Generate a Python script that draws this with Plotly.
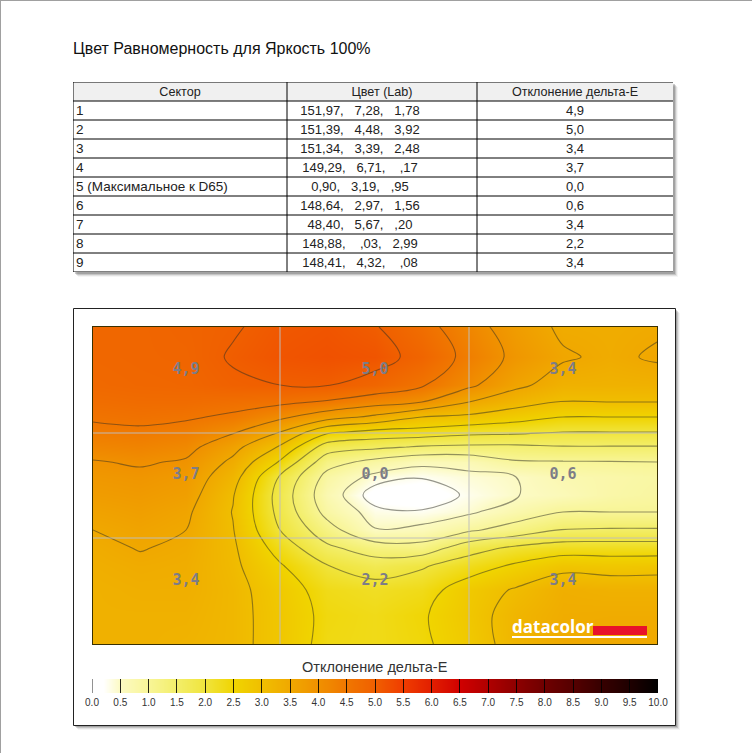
import plotly.graph_objects as go

W, H = 752, 753

title = "Цвет Равномерность для Яркость 100%"
headers = ["Сектор", "Цвет (Lab)", "Отклонение дельта-Е"]
sectors = ["1", "2", "3", "4", "5 (Максимальное к D65)", "6", "7", "8", "9"]
NB = "\u00a0\u00a0\u00a0"
lab = [
    f"151,97,{NB}7,28,{NB}1,78", f"151,39,{NB}4,48,{NB}3,92", f"151,34,{NB}3,39,{NB}2,48",
    f"149,29,{NB}6,71,{NB}\u00a0,17", f"0,90,{NB}3,19,{NB},95", f"148,64,{NB}2,97,{NB}1,56",
    f"48,40,{NB}5,67,{NB},20", f"148,88,{NB}\u00a0,03,{NB}2,99", f"148,41,{NB}4,32,{NB}\u00a0,08",
]
delta_e = ["4,9", "5,0", "3,4", "3,7", "0,0", "0,6", "3,4", "2,2", "3,4"]

grid_x = [93, 140, 186, 233, 280, 327, 375, 422, 469, 516, 563, 610, 657]
grid_y = [327, 357, 385, 402, 417, 432, 447, 462, 477, 495, 512, 530, 548, 566, 590, 615, 644]
col_093 = [4.82, 4.82, 4.78, 4.68, 4.55, 4.40, 4.20, 3.97, 3.85, 3.75, 3.62, 3.50, 3.40, 3.35, 3.30, 3.30, 3.30]
col_140 = [4.85, 4.85, 4.82, 4.72, 4.60, 4.43, 4.25, 4.05, 3.90, 3.80, 3.70, 3.60, 3.52, 3.42, 3.35, 3.30, 3.30]
col_186 = [4.90, 4.87, 4.84, 4.72, 4.55, 4.35, 4.15, 3.95, 3.80, 3.70, 3.58, 3.50, 3.43, 3.38, 3.35, 3.30, 3.25]
col_233 = [4.97, 5.03, 4.95, 4.65, 4.43, 4.05, 3.65, 3.40, 3.20, 3.03, 2.98, 3.02, 3.07, 3.10, 3.15, 3.15, 3.15]
col_280 = [5.10, 5.15, 5.00, 4.60, 4.10, 3.50, 2.95, 2.45, 1.95, 1.80, 1.85, 2.00, 2.30, 2.55, 2.75, 2.80, 2.80]
col_327 = [5.15, 5.20, 5.02, 4.45, 3.70, 2.60, 1.75, 1.20, 0.85, 0.70, 0.85, 1.20, 1.60, 2.02, 2.30, 2.38, 2.35]
col_375 = [5.03, 5.15, 4.85, 4.20, 3.40, 2.35, 1.60, 0.85, 0.38, 0.10, 0.33, 0.52, 1.25, 1.75, 2.20, 2.30, 2.30]
col_422 = [4.68, 4.87, 4.55, 4.00, 3.00, 2.30, 1.45, 0.60, 0.27, 0.05, 0.28, 0.60, 1.20, 1.95, 2.30, 2.45, 2.42]
col_469 = [4.20, 4.35, 4.10, 3.50, 2.90, 2.15, 1.40, 0.65, 0.40, 0.30, 0.43, 0.93, 1.80, 2.27, 2.75, 2.80, 2.75]
col_516 = [3.75, 3.88, 3.60, 3.20, 2.70, 2.10, 1.40, 0.95, 0.50, 0.48, 0.75, 1.20, 2.10, 2.58, 3.05, 3.20, 3.20]
col_563 = [3.42, 3.55, 3.30, 2.98, 2.50, 2.00, 1.47, 0.97, 0.70, 0.62, 1.00, 1.52, 2.25, 2.85, 3.35, 3.40, 3.45]
col_610 = [3.40, 3.42, 3.28, 3.00, 2.50, 2.00, 1.47, 0.98, 0.78, 0.80, 1.00, 1.55, 2.25, 2.80, 3.30, 3.42, 3.47]
col_657 = [3.45, 3.55, 3.30, 3.00, 2.50, 2.00, 1.47, 1.00, 0.85, 0.88, 1.00, 1.55, 2.25, 2.82, 3.30, 3.42, 3.47]
columns = [col_093, col_140, col_186, col_233, col_280, col_327, col_375, col_422,
           col_469, col_516, col_563, col_610, col_657]
z_grid = [[c[r] for c in columns] for r in range(len(grid_y))]

sector_edges_x = [280, 469]
sector_edges_y = [433, 538]
label_x = [186, 375, 563]
label_y = [370, 475, 581]

scale_ticks = [0.0, 0.5, 1.0, 1.5, 2.0, 2.5, 3.0, 3.5, 4.0, 4.5, 5.0,
               5.5, 6.0, 6.5, 7.0, 7.5, 8.0, 8.5, 9.0, 9.5, 10.0]
scale_colors = ["rgb(255,255,255)", "rgb(252,250,195)", "rgb(248,245,150)", "rgb(243,238,105)",
                "rgb(240,228,60)", "rgb(240,212,0)", "rgb(240,190,0)", "rgb(240,168,0)",
                "rgb(240,145,0)", "rgb(240,118,0)", "rgb(240,95,0)", "rgb(240,60,0)",
                "rgb(225,30,0)", "rgb(208,0,0)", "rgb(175,0,0)", "rgb(140,0,0)",
                "rgb(110,0,0)", "rgb(85,0,0)", "rgb(55,0,0)", "rgb(30,0,0)", "rgb(0,0,0)"]
colorscale = [[t / 10, c] for t, c in zip(scale_ticks, scale_colors)]
colorscale.insert(1, [0.02, "rgb(255,255,255)"])

FONT = "Liberation Sans"
def px(v): return v / W
def py(v): return 1 - v / H

fig = go.Figure()
LINE = dict(color="rgba(45,45,35,0.5)", width=1.1, smoothing=1)
fig.add_trace(go.Contour(
    x=grid_x, y=grid_y, z=z_grid, zmin=0, zmax=10, colorscale=colorscale, showscale=False,
    contours=dict(coloring="heatmap", start=0.5, end=5.0, size=0.5, showlines=True),
    line=LINE, hoverinfo="skip"))
fig.add_trace(go.Contour(
    x=grid_x, y=grid_y, z=z_grid, showscale=False,
    contours=dict(coloring="none", start=0.25, end=0.25, size=1),
    line=LINE, hoverinfo="skip"))

# sector readings on the map
fig.add_trace(go.Scatter(
    x=[label_x[i % 3] for i in range(9)], y=[label_y[i // 3] for i in range(9)],
    mode="text", text=delta_e, textposition="middle center",
    textfont=dict(family="DejaVu Sans Mono", size=15, color="rgb(125,125,135)", weight="bold"),
    hoverinfo="skip", showlegend=False))
fig.add_trace(go.Scatter(
    x=[512], y=[629], mode="text", text=["datacolor"], textposition="middle right",
    textfont=dict(family="Open Sans", size=17, color="white", weight="bold"),
    hoverinfo="skip", showlegend=False))

# scale bar
fig.add_trace(go.Heatmap(
    x=scale_ticks, y=[0, 1], z=[scale_ticks, scale_ticks], zmin=0, zmax=10, zsmooth="best",
    colorscale=colorscale, showscale=False, xaxis="x2", yaxis="y2", hoverinfo="skip"))

# table text
rows = list(range(1, len(sectors) + 1))
text_rows = [r + 0.06 for r in rows]
col_borders = [73, 287, 477, 673]
for xs, txt, pos, ys, size in [
    ([180, 382, 575], headers, "middle center", [0.06] * 3, 12.6),
    ([76] * 9, sectors, "middle right", text_rows, 13.5),
    ([360] * 9, lab, "middle center", text_rows, 13),
    ([575] * 9, delta_e, "middle center", text_rows, 13),
]:
    fig.add_trace(go.Scatter(
        x=xs, y=ys, mode="text", text=txt, textposition=pos, xaxis="x3", yaxis="y3",
        textfont=dict(family=FONT, size=size, color="#222"), hoverinfo="skip", showlegend=False))

shapes = []
def shadow(x0, y0, x1, y1):
    for d, a in [(5, 0.05), (4, 0.1), (3, 0.18), (2, 0.25)]:
        shapes.append(dict(type="rect", xref="paper", yref="paper", layer="below",
                           x0=px(x0 + d), x1=px(x1 + d), y0=py(y0 + d), y1=py(y1 + d),
                           line_width=0, fillcolor=f"rgba(60,60,60,{a})"))

# page edge
shapes.append(dict(type="line", xref="paper", yref="paper", layer="below",
                   x0=px(0.5), x1=px(0.5), y0=0, y1=1, line=dict(color="#a0a0a0", width=1)))
shapes.append(dict(type="line", xref="paper", yref="paper", layer="below",
                   x0=0, x1=1, y0=py(0.5), y1=py(0.5), line=dict(color="#a0a0a0", width=1)))
shadow(73, 82, 673, 272)
shapes.append(dict(type="rect", xref="paper", yref="paper", layer="below",
                   x0=px(73), x1=px(673), y0=py(82), y1=py(272), line_width=0, fillcolor="white"))
shapes.append(dict(type="rect", xref="paper", yref="paper", layer="below",
                   x0=px(73), x1=px(673), y0=py(82), y1=py(101), line_width=0, fillcolor="#f0f0f0"))
shadow(73, 308, 675, 725)
shapes.append(dict(type="rect", xref="paper", yref="paper", layer="below",
                   x0=px(73.5), x1=px(675.5), y0=py(308.5), y1=py(725.5),
                   line=dict(color="#222", width=1), fillcolor="white"))
for r in range(len(rows) + 2):
    shapes.append(dict(type="line", xref="x3", yref="y3", x0=73, x1=673, y0=r - 0.5, y1=r - 0.5,
                       line=dict(color="black", width=1)))
for b in col_borders[:-1]:
    shapes.append(dict(type="line", xref="x3", yref="y3", x0=b, x1=b, y0=-0.5, y1=len(rows) + 0.5,
                       line=dict(color="black", width=1)))
for e in sector_edges_x:
    shapes.append(dict(type="line", xref="x", yref="y", x0=e, x1=e, y0=327, y1=644,
                       line=dict(color="rgba(190,190,190,0.95)", width=1)))
for e in sector_edges_y:
    shapes.append(dict(type="line", xref="x", yref="y", x0=93, x1=657, y0=e, y1=e,
                       line=dict(color="rgba(190,190,190,0.95)", width=1)))
# first and last ticks of the scale bar
for t in (scale_ticks[0], scale_ticks[-1]):
    shapes.append(dict(type="line", xref="x2", yref="y2", x0=t, x1=t, y0=0, y1=1,
                       line=dict(color="rgba(0,0,0,0.85)", width=1)))
# logo bar and underline
shapes.append(dict(type="rect", xref="x", yref="y", x0=593, x1=647, y0=626, y1=635,
                   line_width=0, fillcolor="rgb(232,18,42)"))
shapes.append(dict(type="rect", xref="x", yref="y", x0=512, x1=647, y0=636, y1=638,
                   line_width=0, fillcolor="white"))

fig.update_layout(
    width=W, height=H, margin=dict(l=0, r=0, t=0, b=0), autosize=False,
    paper_bgcolor="white", plot_bgcolor="rgba(0,0,0,0)", showlegend=False, shapes=shapes,
    font=dict(family=FONT), template="none",
    xaxis=dict(domain=[px(93), px(657)], range=[93, 657], showgrid=False, zeroline=False, automargin=False,
               showticklabels=False, ticks="", showline=True, mirror=True, linecolor="#3a3000", linewidth=1),
    yaxis=dict(domain=[py(644), py(327)], range=[644, 327], showgrid=False, zeroline=False, automargin=False,
               showticklabels=False, ticks="", showline=True, mirror=True, linecolor="#3a3000", linewidth=1),
    xaxis2=dict(domain=[px(92), px(658)], range=[0, 10], anchor="y2", tickvals=scale_ticks, automargin=False,
                ticktext=[f"{t:.1f}" for t in scale_ticks], ticks="inside", ticklen=14,
                tickcolor="rgba(0,0,0,0.85)", tickwidth=1, showgrid=False, zeroline=False,
                ticklabelstandoff=2,
                tickfont=dict(family=FONT, size=10, color="#333")),
    yaxis2=dict(domain=[py(693), py(679)], range=[0, 1], anchor="x2", visible=False, automargin=False),
    xaxis3=dict(domain=[px(73), px(673)], range=[73, 673], anchor="y3", visible=False, automargin=False),
    yaxis3=dict(domain=[py(272), py(82)], range=[len(rows) + 0.5, -0.5], anchor="x3", visible=False, automargin=False),
    annotations=[
        dict(text=title, xref="paper", yref="paper", x=px(71), y=py(48.5), xanchor="left", yanchor="middle",
             showarrow=False, font=dict(family=FONT, size=16, color="#111")),
        dict(text=headers[2], xref="paper", yref="paper", x=px(375), y=py(667), xanchor="center",
             yanchor="middle", showarrow=False, font=dict(family=FONT, size=14.5, color="#333")),
    ],
)
fig.write_html("out.html", config={"displayModeBar": False},
               post_script="document.body.style.margin='0';document.body.style.overflow='hidden';")
